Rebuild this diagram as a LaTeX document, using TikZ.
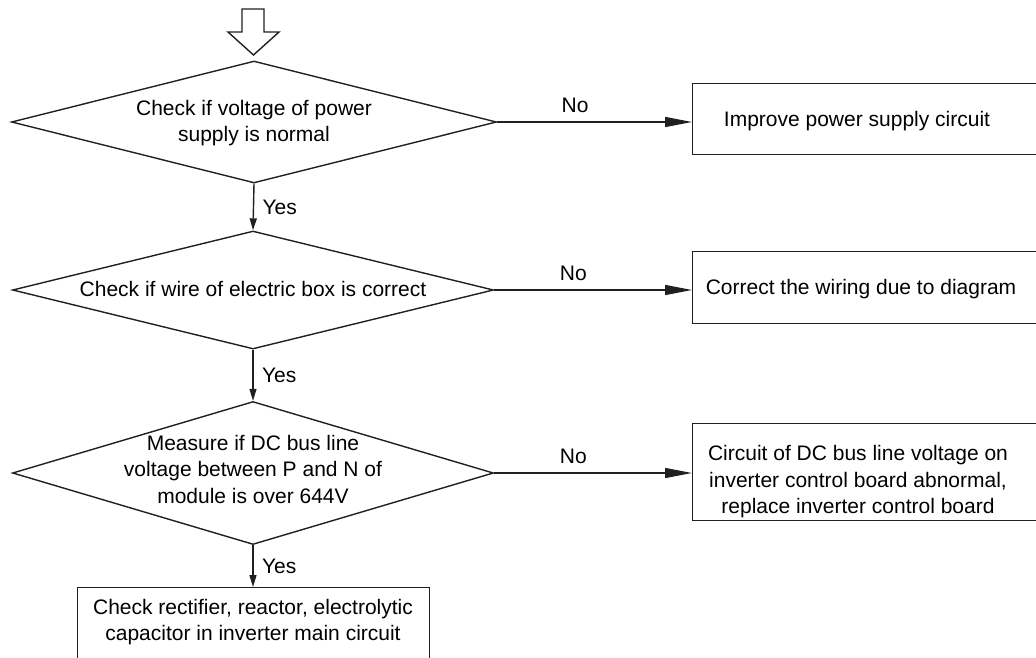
\documentclass[tikz,border=0pt]{standalone}
\usepackage{fontspec}
\setmainfont{Liberation Sans}
\usepackage{tikz}
\usetikzlibrary{arrows.meta,positioning,calc,shapes.geometric}
\definecolor{fline}{HTML}{231F20}

\begin{document}
\begin{tikzpicture}[x=1pt,y=-1pt,line width=1.4pt,
  every node/.style={font=\fontsize{21}{26.5}\selectfont,text=black},
  decide/.style={draw=fline,diamond,inner sep=0pt},
  action/.style={draw=fline,rectangle,inner sep=0pt,anchor=north west},
  flow/.style={draw=fline,-{Triangle[length=12pt,width=7pt]}},
  sideflow/.style={draw=fline,-{Triangle[length=27pt,width=10pt]}}]
  \clip (0,0) rectangle (1036,657);
  % entry arrow
  \draw[fline] (242,9) -- (264,9) -- (264,32) -- (279,32) -- (253.5,55)
    -- (228,32) -- (242,32) -- cycle;
  % checks
  \node[decide,minimum width=485pt,minimum height=122pt] (d1) at (254,122) {};
  \node[align=center] (t1) at (254,123) {Check if voltage of power\\supply is normal};
  \node[decide,minimum width=481pt,minimum height=118pt] (d2) at (253,290) {};
  \node (t2) at (253,289) {Check if wire of electric box is correct};
  \node[decide,minimum width=481pt,minimum height=143pt] (d3) at (253,473) {};
  \node[align=center] (t3) at (253,469) {Measure if DC bus line\\voltage between P and N of\\module is over 644V};
  % actions
  \node[action,minimum width=370pt,minimum height=71pt] (b1) at (692,83) {};
  \node (bt1) at (857,121) {Improve power supply circuit};
  \node[action,minimum width=370pt,minimum height=72pt] (b2) at (692,251) {};
  \node (bt2) at (861,289) {Correct the wiring due to diagram};
  \node[action,minimum width=370pt,minimum height=97pt] (b3) at (692,423) {};
  \node[align=center] (bt3) at (858,482) {Circuit of DC bus line voltage on\\inverter control board abnormal,\\replace inverter control board};
  \node[action,minimum width=352pt,minimum height=100pt] (b4) at (77,587) {};
  \node[align=center] (bt4) at (253,622) {Check rectifier, reactor, electrolytic\\capacitor in inverter main circuit};
  % connectors
  \draw[flow] (d1.south) -- (d2.north) node[midway,right=5pt] (y1) {Yes};
  \draw[flow] (d2.south) -- (d3.north) node[midway,right=5pt] (y2) {Yes};
  \draw[flow] (d3.south) -- (d3.south |- b4.north) node[midway,right=5pt] (y3) {Yes};
  \draw[sideflow] (d1.east) -- (d1.east -| b1.west) node[pos=0.4,above=5pt] (n1) {No};
  \draw[sideflow] (d2.east) -- (d2.east -| b2.west) node[pos=0.4,above=5pt] (n2) {No};
  \draw[sideflow] (d3.east) -- (d3.east -| b3.west) node[pos=0.4,above=5pt] (n3) {No};
\end{tikzpicture}
\end{document}
